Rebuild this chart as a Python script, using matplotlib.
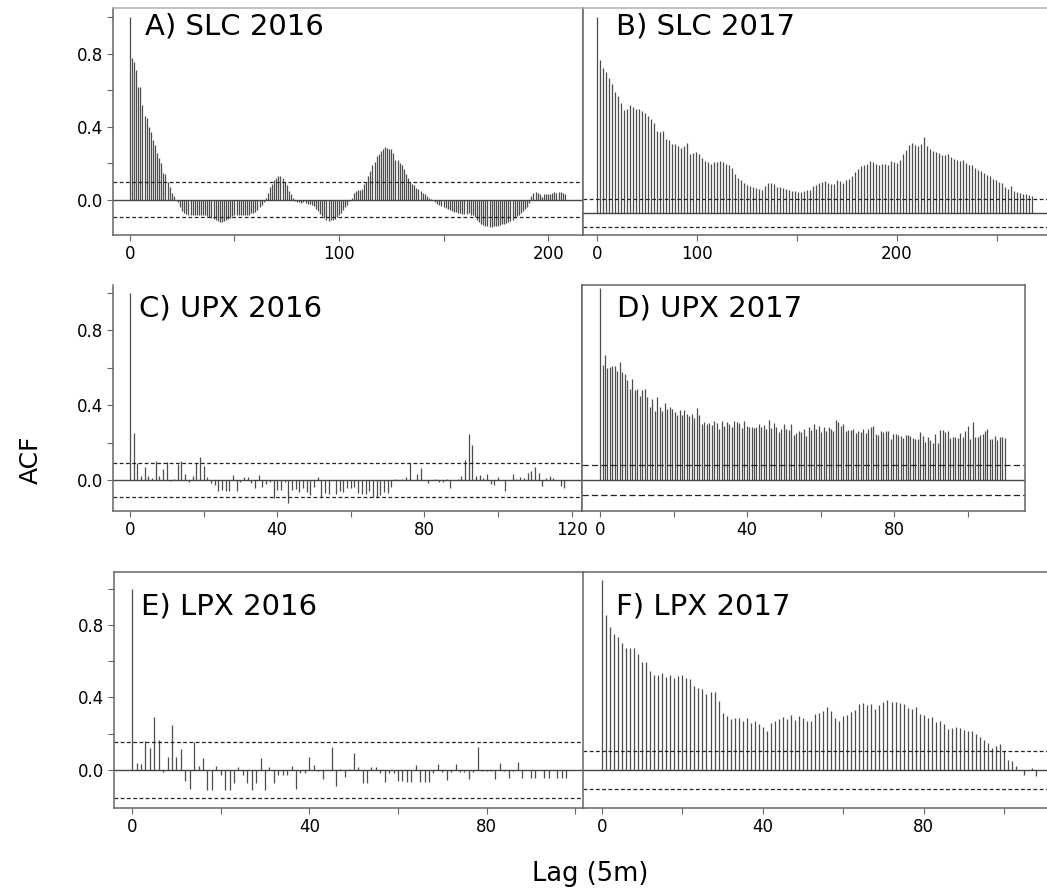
import numpy as np
import matplotlib.pyplot as plt

# ACF values per site and year (lag 0 first)
acf_slc16 = [1.0, 0.78, 0.755, 0.71, 0.62, 0.62, 0.52, 0.46, 0.45, 0.40, 0.37, 0.33, 0.30, 0.26, 0.23, 0.20,
             0.15, 0.14, 0.10, 0.07, 0.04, 0.02, 0.0,
             -0.01, -0.04, -0.06, -0.07, -0.075, -0.08, -0.08, -0.085, -0.085, -0.085, -0.085, -0.08, -0.085,
             -0.085, -0.09, -0.095, -0.10, -0.105, -0.11, -0.115, -0.12, -0.12, -0.115, -0.11, -0.105, -0.10,
             -0.09, -0.085, -0.08, -0.08, -0.085, -0.085, -0.08, -0.08, -0.08, -0.07, -0.07, -0.065, -0.055,
             -0.04, -0.025, -0.01,
             0.01, 0.04, 0.07, 0.09, 0.11, 0.12, 0.13, 0.13, 0.12, 0.10, 0.08, 0.05, 0.03, 0.01,
             -0.005, -0.01, -0.01, -0.015, -0.01, -0.015, -0.02, -0.02, -0.025, -0.035,
             -0.05, -0.06, -0.075, -0.09, -0.10, -0.11, -0.115, -0.11, -0.11, -0.105, -0.095, -0.08, -0.07,
             -0.055, -0.04, -0.025, -0.005,
             0.01, 0.04, 0.05, 0.055, 0.055, 0.06, 0.09, 0.10, 0.13, 0.16, 0.19, 0.21, 0.24, 0.25, 0.27, 0.28,
             0.29, 0.285, 0.28, 0.28, 0.26, 0.22, 0.22, 0.205, 0.19, 0.17, 0.14, 0.12, 0.10, 0.09, 0.08, 0.065,
             0.06, 0.05, 0.04, 0.03, 0.02, 0.01, 0.005, 0.0,
             -0.01, -0.02, -0.03, -0.035, -0.04, -0.045, -0.05, -0.055, -0.06, -0.065, -0.065, -0.07, -0.07,
             -0.075, -0.075, -0.075, -0.07, -0.08, -0.085, -0.095, -0.11, -0.12, -0.13, -0.135, -0.14, -0.145,
             -0.15, -0.148, -0.145, -0.14, -0.14, -0.135, -0.13, -0.13, -0.125, -0.12, -0.115, -0.11, -0.10,
             -0.09, -0.08, -0.07, -0.06, -0.05, -0.04, -0.015,
             0.02, 0.04, 0.045, 0.04, 0.035, 0.015, 0.03, 0.03, 0.03, 0.035, 0.04, 0.045, 0.04, 0.045, 0.045,
             0.04, 0.035]

acf_slc17 = [1.0, 0.78, 0.74, 0.72, 0.69, 0.66, 0.62, 0.595, 0.56, 0.525, 0.53, 0.55, 0.54, 0.53, 0.53, 0.52,
             0.51, 0.495, 0.48, 0.46, 0.42, 0.415, 0.42, 0.38, 0.375, 0.35, 0.35, 0.34, 0.33, 0.34, 0.355,
             0.30, 0.305, 0.31, 0.30, 0.28, 0.265, 0.26, 0.25, 0.26, 0.26, 0.265, 0.26, 0.25, 0.245, 0.23,
             0.20, 0.18, 0.17, 0.155, 0.145, 0.14, 0.133, 0.128, 0.122, 0.12, 0.14, 0.155, 0.155, 0.15, 0.135,
             0.133, 0.13, 0.122, 0.12, 0.112, 0.11, 0.105, 0.108, 0.11, 0.118, 0.12, 0.138, 0.145, 0.152, 0.16,
             0.162, 0.155, 0.15, 0.148, 0.167, 0.162, 0.155, 0.17, 0.175, 0.19, 0.21, 0.225, 0.24, 0.247,
             0.252, 0.264, 0.26, 0.252, 0.247, 0.252, 0.25, 0.245, 0.265, 0.258, 0.255, 0.272, 0.30, 0.32,
             0.345, 0.357, 0.345, 0.34, 0.35, 0.39, 0.34, 0.327, 0.315, 0.31, 0.305, 0.295, 0.298, 0.303,
             0.286, 0.278, 0.272, 0.264, 0.272, 0.255, 0.245, 0.243, 0.23, 0.22, 0.213, 0.205, 0.196, 0.187,
             0.175, 0.17, 0.16, 0.152, 0.135, 0.125, 0.14, 0.11, 0.105, 0.102, 0.099, 0.097, 0.094, 0.085]

acf_upx16 = [1.0, 0.25, 0.09, 0.023, 0.07, 0.02, 0.01, 0.10, 0.02, 0.057, 0.098, -0.005, 0.003, 0.085, 0.10,
             0.03, -0.01, 0.02, 0.09, 0.125, 0.075, 0.018, -0.018, -0.027, -0.06, -0.055, -0.057, -0.057,
             0.027, -0.057, -0.01, 0.015, 0.015, -0.018, -0.045, 0.027, -0.035, -0.02, -0.01, -0.098, -0.053,
             -0.053, -0.01, -0.12, -0.053, -0.05, -0.062, -0.045, -0.062, -0.08, -0.035, 0.018, -0.09, -0.07,
             -0.075, 0.002, -0.075, -0.057, -0.062, -0.045, -0.04, -0.035, -0.07, -0.072, -0.072, -0.057,
             -0.09, -0.093, -0.08, -0.062, -0.068, -0.035, 0.003, -0.002, 0.005, 0.018, 0.09, 0.0, 0.032,
             0.062, 0.0, -0.014, -0.002, 0.005, -0.01, -0.008, 0.004, -0.04, 0.0, 0.004, 0.02, 0.107, 0.245,
             0.187, 0.023, 0.027, 0.01, 0.032, -0.02, -0.027, 0.014, 0.002, -0.057, 0.001, 0.032, 0.003, 0.018,
             0.01, 0.035, 0.05, 0.068, 0.04, -0.032, 0.01, 0.02, 0.01, 0.002, -0.032, -0.045]

acf_upx17 = [1.0, 0.60, 0.65, 0.585, 0.59, 0.593, 0.595, 0.567, 0.616, 0.563, 0.55, 0.52, 0.475, 0.525, 0.467,
             0.475, 0.44, 0.467, 0.472, 0.432, 0.379, 0.423, 0.361, 0.432, 0.379, 0.361, 0.40, 0.37, 0.379,
             0.37, 0.353, 0.339, 0.365, 0.339, 0.367, 0.344, 0.335, 0.344, 0.321, 0.374, 0.339, 0.291, 0.304,
             0.291, 0.296, 0.286, 0.309, 0.296, 0.268, 0.309, 0.282, 0.304, 0.291, 0.274, 0.309, 0.304, 0.296,
             0.270, 0.309, 0.282, 0.274, 0.274, 0.270, 0.279, 0.291, 0.274, 0.286, 0.265, 0.314, 0.270, 0.296,
             0.274, 0.251, 0.265, 0.291, 0.265, 0.261, 0.291, 0.233, 0.244, 0.256, 0.251, 0.265, 0.230, 0.279,
             0.261, 0.291, 0.265, 0.282,
             0.251, 0.279, 0.256, 0.274, 0.265, 0.254, 0.314, 0.30, 0.282, 0.291, 0.256, 0.261, 0.261, 0.265,
             0.247, 0.256, 0.251, 0.268, 0.247, 0.268, 0.274, 0.282, 0.239, 0.233, 0.256, 0.251, 0.256, 0.256,
             0.212, 0.239, 0.239, 0.233, 0.230, 0.221, 0.233, 0.233, 0.230, 0.221, 0.216, 0.216, 0.251, 0.230,
             0.198, 0.226, 0.209, 0.191, 0.239, 0.195, 0.261, 0.26, 0.251, 0.256, 0.221, 0.226, 0.226, 0.221,
             0.244, 0.226, 0.256, 0.282, 0.216, 0.30, 0.226, 0.226, 0.233, 0.239, 0.256, 0.265, 0.216, 0.212,
             0.230, 0.209, 0.226, 0.226, 0.221]

acf_lpx16 = [1.0, 0.037, 0.033, 0.16, 0.12, 0.29, 0.165, -0.01, 0.073, 0.25, 0.073, 0.114, -0.06, -0.107,
             0.156, 0.022, 0.066, -0.11, -0.11, 0.022, -0.028, -0.11, -0.11, -0.07, 0.018, -0.028, -0.07,
             -0.11, -0.07, 0.064, -0.11, 0.018, -0.07, -0.028, -0.028, -0.028, 0.022, -0.107, -0.018, -0.018,
             0.07, 0.026, -0.005, -0.05, 0.0, 0.128, -0.088, 0.004, -0.04, 0.007, 0.095, 0.018, -0.07, -0.073,
             0.018, 0.018, -0.018, -0.064, -0.018, -0.018, -0.06, -0.06, -0.064, -0.064, 0.028, -0.064, -0.064,
             -0.064, -0.018, 0.033, -0.013, -0.055, -0.013, 0.033, -0.01, -0.01, -0.05, -0.01, 0.125, -0.005,
             -0.005, -0.005, -0.05, 0.037, -0.005, -0.046, -0.005, 0.046, -0.046, 0.0, -0.046, -0.046, 0.0,
             -0.046, -0.046, 0.0, -0.046, -0.046, -0.046]

acf_lpx17 = [1.0, 0.816, 0.754, 0.716, 0.698, 0.667, 0.64, 0.64, 0.64, 0.61, 0.57, 0.567, 0.521, 0.50, 0.50,
             0.509, 0.491, 0.50, 0.482, 0.495, 0.50, 0.486, 0.477, 0.444, 0.43, 0.425, 0.40, 0.409, 0.409,
             0.363, 0.298, 0.286, 0.268, 0.272, 0.272, 0.26, 0.272, 0.246, 0.258, 0.242, 0.225, 0.207, 0.249,
             0.26, 0.268, 0.281, 0.268, 0.289, 0.263, 0.286, 0.272, 0.26, 0.258, 0.295, 0.298, 0.31, 0.333,
             0.31, 0.272, 0.26, 0.286, 0.289, 0.304, 0.316, 0.346, 0.351, 0.342, 0.346, 0.319, 0.342, 0.356,
             0.368, 0.36, 0.356, 0.351, 0.347, 0.325, 0.319, 0.33, 0.293, 0.289, 0.272, 0.277, 0.254, 0.26,
             0.24, 0.216, 0.219, 0.228, 0.219, 0.21, 0.205, 0.205, 0.188, 0.172, 0.158, 0.144, 0.114, 0.126,
             0.137, 0.102, 0.053, 0.047, 0.023, 0.0, -0.026, 0.0, 0.009, -0.032]

# approximate 95% bounds drawn as dashed lines
ci = {'A': 0.096, 'B': 0.07, 'C': 0.092, 'D': 0.08, 'E': 0.156, 'F': 0.102}

# lag units covered by one bar in each panel
lag_step = {'A': 1, 'B': 3, 'C': 1, 'D': 0.675, 'E': 1, 'F': 1}

W, H = 1047, 890
fig = plt.figure(figsize=(W / 100, H / 100), dpi=100)
plt.rcParams['font.family'] = 'DejaVu Sans'

spine_col = '#666666'
bar_col = '#4d4d4d'


def panel(x0, x1, y0, y1):
    return fig.add_axes([x0 / W, 1 - y1 / H, (x1 - x0) / W, (y1 - y0) / H])


def draw(ax, key, acf, xlim, ylim, xticks, xlabels, left=True, dash=(3, 2), hide=(), top_col=None):
    lags = np.arange(len(acf)) * lag_step[key]
    ax.vlines(lags, 0, acf, color=bar_col, lw=0.9)
    ax.axhline(0, color='#444444', lw=1.0)
    for s in (1, -1):
        ax.axhline(s * ci[key], color='#222222', lw=0.9, ls=(0, dash))
    ax.set_xlim(*xlim)
    ax.set_ylim(*ylim)
    ax.set_xticks(xticks)
    ax.set_xticklabels(xlabels)
    if left:
        ax.set_yticks([0, 0.2, 0.4, 0.6, 0.8, 1.0])
        ax.set_yticklabels(['0.0', '', '0.4', '', '0.8', ''])
    else:
        ax.set_yticks([])
    ax.tick_params(direction='out', length=4, width=0.8, color=spine_col,
                   labelsize=12, pad=3)
    for name, sp in ax.spines.items():
        sp.set_color(spine_col)
        sp.set_linewidth(1.1)
        if name in hide:
            sp.set_visible(False)
    if top_col:
        ax.spines['top'].set_color(top_col)


# row 1
axA = panel(113, 583, 8, 235)
draw(axA, 'A', acf_slc16, (-8.1, 216.7), (-0.192, 1.052),
     [0, 50, 100, 150, 200], ['0', '', '100', '', '200'], top_col='#b0b0b0')
axB = panel(583, 1052, 8, 235)
draw(axB, 'B', acf_slc17, (-14, 455), (-0.112, 1.046),
     [0, 100, 200, 300, 400], ['0', '100', '', '200', ''], left=False, top_col='#b0b0b0')

# row 2
axC = panel(113, 582, 285, 511)
draw(axC, 'C', acf_upx16, (-4.6, 122.8), (-0.165, 1.04),
     [0, 20, 40, 60, 80, 100, 120], ['0', '', '40', '', '80', '', '120'], hide=('top',))
axD = panel(582, 1025, 285, 511)
draw(axD, 'D', acf_upx17, (-4.9, 115.5), (-0.161, 1.016),
     [0, 20, 40, 60, 80, 100], ['0', '', '40', '', '80', ''], left=False, dash=(5, 2.5))

# row 3
axE = panel(114, 584, 572, 808)
draw(axE, 'E', acf_lpx16, (-4.1, 102.0), (-0.209, 1.091),
     [0, 20, 40, 60, 80, 100], ['0', '', '40', '', '80', ''])
axF = panel(583, 1052, 572, 808)
draw(axF, 'F', acf_lpx17, (-4.7, 111.9), (-0.2, 1.042),
     [0, 20, 40, 60, 80, 100], ['0', '', '40', '', '80', ''], left=False)

# panel titles
titles = [('A) SLC 2016', 145, 35), ('B) SLC 2017', 616, 35),
          ('C) UPX 2016', 139, 316), ('D) UPX 2017', 617, 316),
          ('E) LPX 2016', 141, 614), ('F) LPX 2017', 616, 614)]
for txt, x, y in titles:
    fig.text(x / W, 1 - y / H, txt, fontsize=21, ha='left', va='baseline')

fig.text(31 / W, 1 - 460 / H, 'ACF', fontsize=18, rotation=90, ha='center', va='center')
fig.text(590 / W, 1 - 874 / H, 'Lag (5m)', fontsize=18.5, ha='center', va='center')

fig.savefig('out.png', dpi=100)
